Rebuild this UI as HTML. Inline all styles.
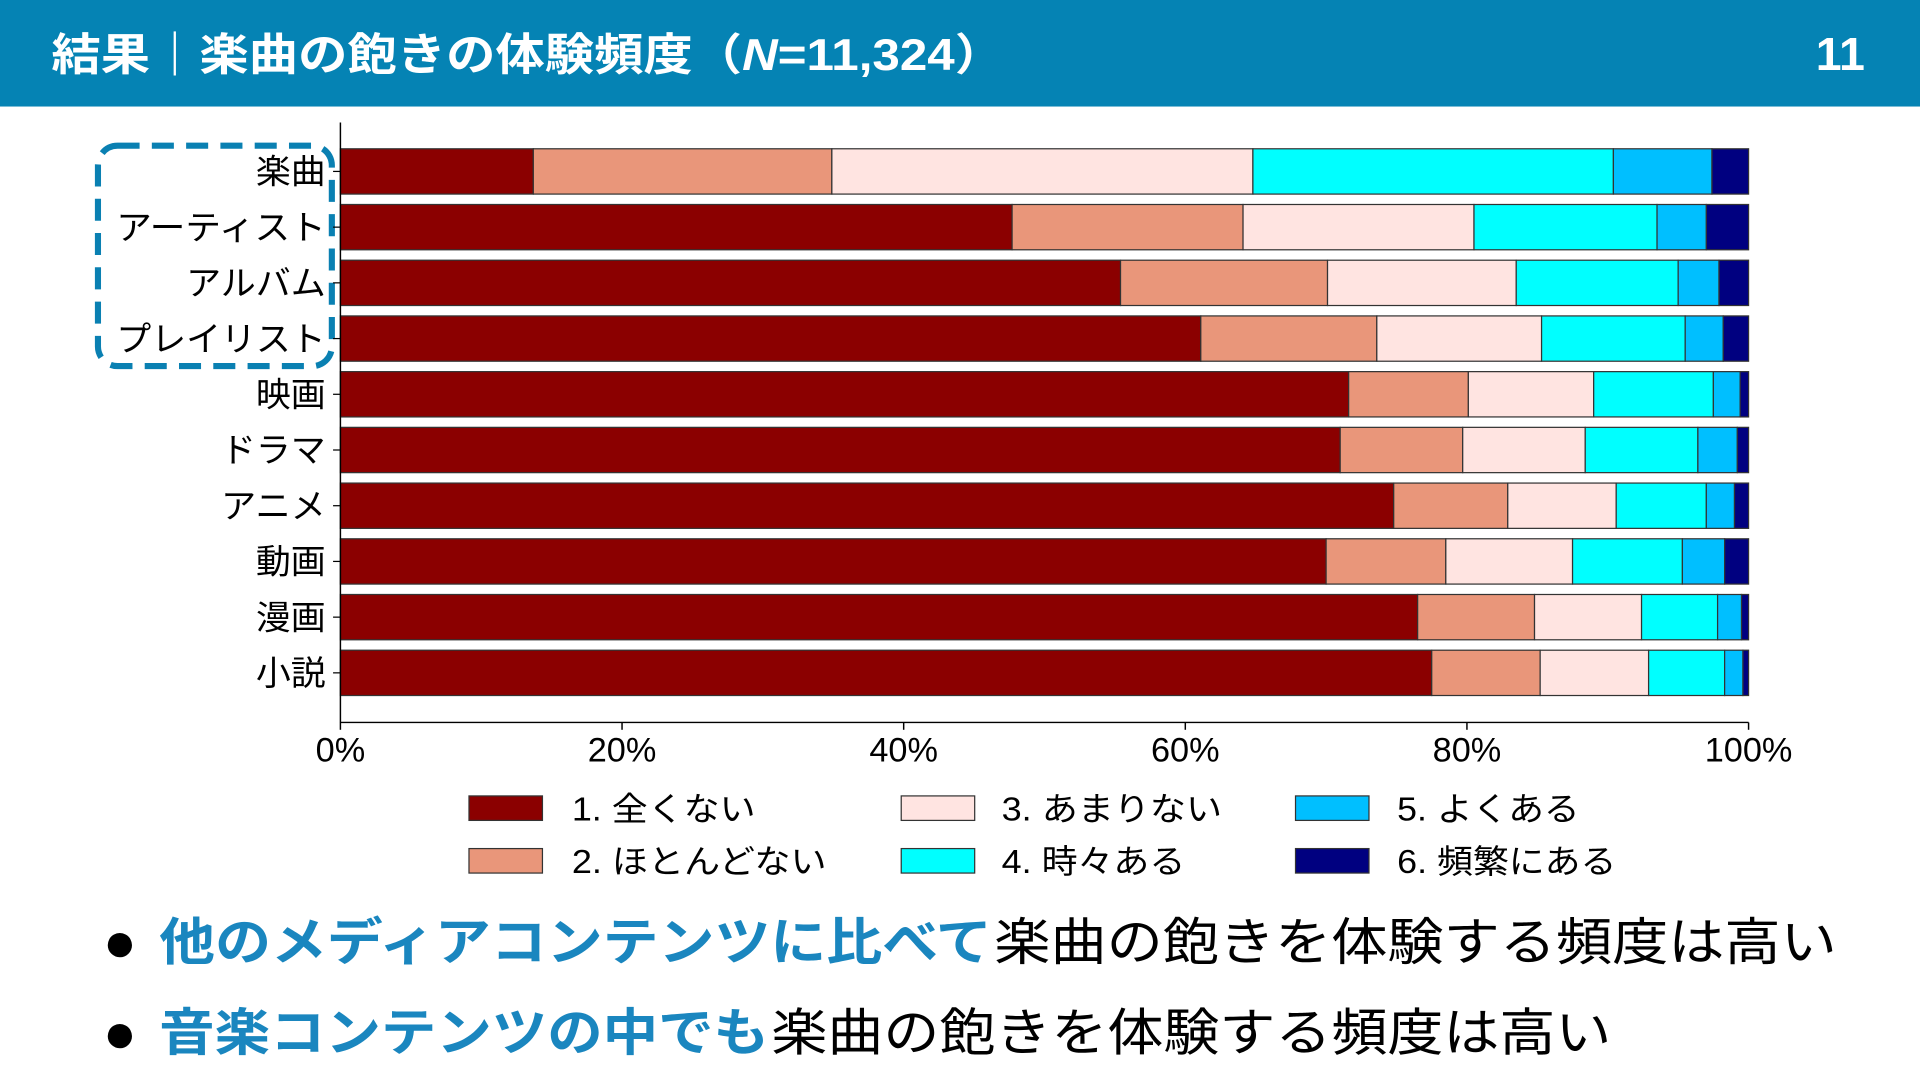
<!DOCTYPE html>
<html><head><meta charset="utf-8"><style>
html,body{margin:0;padding:0;background:#fff;}
svg{display:block;}
text{font-family:"Liberation Sans","Noto Sans CJK JP",sans-serif;}
</style></head><body>
<svg id="chart" width="1920" height="1080" viewBox="0 0 1568 882" xmlns="http://www.w3.org/2000/svg">
<rect x="0" y="0" width="1568" height="87" fill="#0583b4"/>
<text x="42" y="57" font-size="36" font-weight="bold" fill="#fff" textLength="778" lengthAdjust="spacingAndGlyphs">結果｜楽曲の飽きの体験頻度（<tspan font-style="italic">N</tspan>=11,324）</text>
<text x="1523" y="57" font-size="38" font-weight="bold" fill="#fff" text-anchor="end">11</text>
<rect x="80" y="119" width="191" height="180" rx="16" fill="none" stroke="#0a80b2" stroke-width="5" stroke-dasharray="18,10"/>
<g id="plot"></g>
<g font-size="27" fill="#000">
<rect x="383" y="650" width="60" height="20" fill="#8b0000" stroke="#333" stroke-width="1"/>
<text x="467" y="670" textLength="150" lengthAdjust="spacingAndGlyphs">1. 全くない</text>
<rect x="383" y="693" width="60" height="20" fill="#e9967a" stroke="#333" stroke-width="1"/>
<text x="467" y="713" textLength="208" lengthAdjust="spacingAndGlyphs">2. ほとんどない</text>
<rect x="736" y="650" width="60" height="20" fill="#ffe4e1" stroke="#333" stroke-width="1"/>
<text x="818" y="670" textLength="180" lengthAdjust="spacingAndGlyphs">3. あまりない</text>
<rect x="736" y="693" width="60" height="20" fill="#00ffff" stroke="#333" stroke-width="1"/>
<text x="818" y="713" textLength="150" lengthAdjust="spacingAndGlyphs">4. 時々ある</text>
<rect x="1058" y="650" width="60" height="20" fill="#00bfff" stroke="#333" stroke-width="1"/>
<text x="1141" y="670" textLength="149" lengthAdjust="spacingAndGlyphs">5. よくある</text>
<rect x="1058" y="693" width="60" height="20" fill="#000080" stroke="#333" stroke-width="1"/>
<text x="1141" y="713" textLength="179" lengthAdjust="spacingAndGlyphs">6. 頻繁にある</text>
</g>
<text x="84" y="785" font-size="46">●</text>
<text x="130" y="784" font-size="42" fill="#1a86bf" font-weight="bold" textLength="680" lengthAdjust="spacingAndGlyphs">他のメディアコンテンツに比べて</text>
<text x="812" y="784" font-size="42" textLength="688" lengthAdjust="spacingAndGlyphs">楽曲の飽きを体験する頻度は高い</text>
<text x="84" y="859" font-size="46">●</text>
<text x="130" y="858" font-size="42" fill="#1a86bf" font-weight="bold" textLength="498" lengthAdjust="spacingAndGlyphs">音楽コンテンツの中でも</text>
<text x="630" y="858" font-size="42" textLength="686" lengthAdjust="spacingAndGlyphs">楽曲の飽きを体験する頻度は高い</text>
</svg>
<script>
const categories = ["楽曲","アーティスト","アルバム","プレイリスト","映画","ドラマ","アニメ","動画","漫画","小説"];
const s1 = [13.7,47.7,55.4,61.1,71.6,71.0,74.8,70.0,76.5,77.5];
const s2 = [21.2,16.4,14.7,12.5,8.5,8.7,8.1,8.5,8.3,7.7];
const s3 = [29.9,16.4,13.4,11.7,8.9,8.7,7.7,9.0,7.6,7.7];
const s4 = [25.6,13.0,11.5,10.2,8.5,8.0,6.4,7.8,5.4,5.4];
const s5 = [7.0,3.5,2.9,2.7,1.9,2.8,2.0,3.0,1.7,1.3];
const s6 = [2.6,3.0,2.1,1.8,0.6,0.8,1.0,1.7,0.5,0.4];
const tickValues = [0,20,40,60,80,100];
const tickLabels = ["0%","20%","40%","60%","80%","100%"];

const NS="http://www.w3.org/2000/svg";
const g=document.getElementById('plot');
const X0=278,X1=1428,Y0=100,Y1=590,row0=140,rowStep=45.5,barH=37;
const xs=v=>X0+(X1-X0)*v/100;
const ys=i=>row0+i*rowStep;
const colors=["#8b0000","#e9967a","#ffe4e1","#00ffff","#00bfff","#000080"];
const series=[s1,s2,s3,s4,s5,s6];
function mk(t,a){const e=document.createElementNS(NS,t);for(const k in a)e.setAttribute(k,a[k]);g.appendChild(e);return e;}
categories.forEach((c,i)=>{
  let cum=0;
  series.forEach((s,j)=>{
    const r=mk('rect',{x:xs(cum),y:ys(i)-barH/2,width:xs(cum+s[i])-xs(cum),height:barH,fill:colors[j],stroke:'#333','stroke-width':1});
    
    
    cum+=s[i];
  });
  const t=mk('text',{x:266,y:ys(i)+10,'font-size':28,'text-anchor':'end',textLength:c.length*28.5,lengthAdjust:'spacingAndGlyphs'});
  t.textContent=c;
  
  
  const tk=mk('line',{x1:272,x2:X0,y1:ys(i),y2:ys(i),stroke:'#000','stroke-width':1});
  
  
});
const ya=mk('line',{x1:X0,x2:X0,y1:Y0,y2:Y1,stroke:'#000','stroke-width':1.2});


const xa=mk('line',{x1:X0,x2:X1,y1:Y1,y2:Y1,stroke:'#000','stroke-width':1.2});


tickValues.forEach((v,k)=>{
  const l=mk('line',{x1:xs(v),x2:xs(v),y1:Y1,y2:Y1+6,stroke:'#000','stroke-width':1.2});
  
  
  const t=mk('text',{x:xs(v),y:622,'font-size':28,'text-anchor':'middle'});
  t.textContent=tickLabels[k];
  
  
});
</script>
</body></html>
